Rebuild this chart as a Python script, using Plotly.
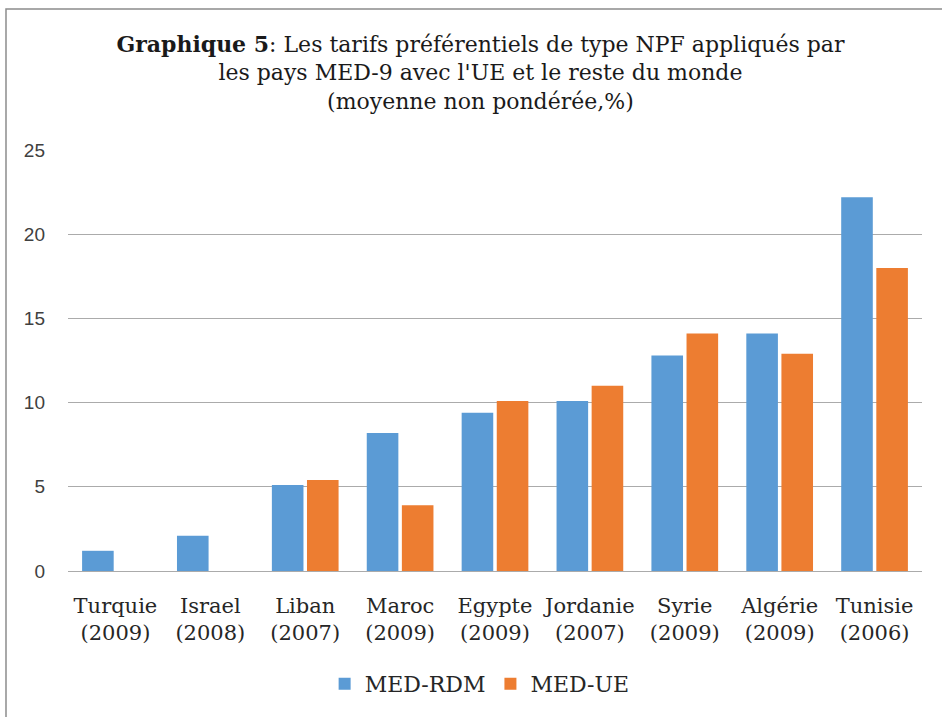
import plotly.graph_objects as go

pays = ["Turquie", "Israel", "Liban", "Maroc", "Egypte", "Jordanie", "Syrie", "Algérie", "Tunisie"]
annees = ["2009", "2008", "2007", "2009", "2009", "2007", "2009", "2009", "2006"]
med_rdm = [1.2, 2.1, 5.1, 8.2, 9.4, 10.1, 12.8, 14.1, 22.2]
med_ue = [0, 0, 5.4, 3.9, 10.1, 11.0, 14.1, 12.9, 18.0]

labels = [f"{p}<br>({a})" for p, a in zip(pays, annees)]
serif = "DejaVu Serif"

fig = go.Figure()
fig.add_trace(go.Bar(x=labels, y=med_rdm, name="MED-RDM",
                     marker=dict(color="#5b9bd5", line=dict(width=0))))
fig.add_trace(go.Bar(x=labels, y=med_ue, name="MED-UE",
                     marker=dict(color="#ed7d31", line=dict(width=0))))

fig.update_layout(
    width=942, height=717,
    paper_bgcolor="white", plot_bgcolor="white",
    margin=dict(l=68, r=20, t=150, b=143),
    barmode="group", bargap=0.26, bargroupgap=0.1,
    title=dict(
        text="<b>Graphique 5</b>: Les tarifs préférentiels de type NPF appliqués par<br>"
             "les pays MED-9 avec l'UE et le reste du monde<br>(moyenne non pondérée,%)",
        x=0.51, xanchor="center", y=0.928, yanchor="top",
        font=dict(family=serif, size=22, color="#1a1a1a"),
    ),
    font=dict(family=serif, color="#262626"),
    xaxis=dict(tickfont=dict(family=serif, size=21, color="#262626"),
               showgrid=False, ticklabelstandoff=20),
    yaxis=dict(range=[0, 25], dtick=5, showgrid=True, gridcolor="#ababab",
               zeroline=True, zerolinecolor="#ababab", zerolinewidth=1,
               tickfont=dict(family="Liberation Sans", size=19, color="#404040"),
               ticklabelstandoff=22),
    legend=dict(orientation="h", x=0.482, xanchor="center", y=-0.268, yanchor="middle",
                font=dict(family=serif, size=22, color="#262626"), itemwidth=30),
    showlegend=True,
)

fig.add_shape(type="rect", xref="paper", yref="paper",
              x0=-0.0726, x1=1.1, y0=-0.4, y1=1.335,
              line=dict(color="#8c8c8c", width=1.5))

fig.write_html("out.html", config={"displayModeBar": False},
               post_script="document.body.style.margin='0';")
